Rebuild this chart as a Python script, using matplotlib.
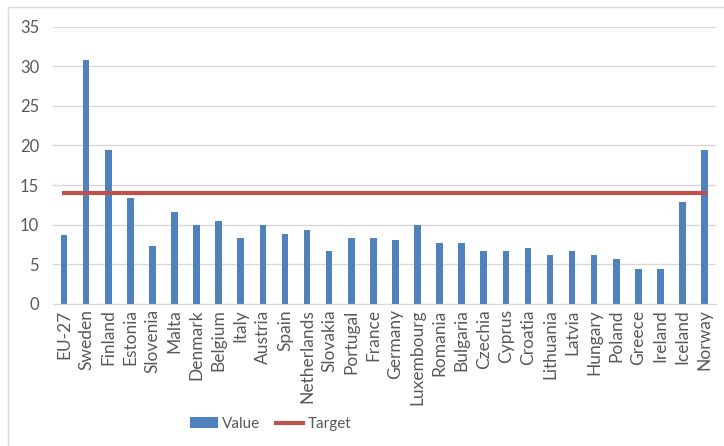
import matplotlib.pyplot as plt
from matplotlib.patches import Rectangle

# Share values per country, with the common target
countries = ["EU-27", "Sweden", "Finland", "Estonia", "Slovenia", "Malta", "Denmark",
             "Belgium", "Italy", "Austria", "Spain", "Netherlands", "Slovakia",
             "Portugal", "France", "Germany", "Luxembourg", "Romania", "Bulgaria",
             "Czechia", "Cyprus", "Croatia", "Lithuania", "Latvia", "Hungary",
             "Poland", "Greece", "Ireland", "Iceland", "Norway"]
values = [8.7, 30.8, 19.4, 13.3, 7.3, 11.6, 10.0, 10.4, 8.3, 9.9, 8.8, 9.3, 6.7,
          8.3, 8.3, 8.0, 9.9, 7.7, 7.7, 6.7, 6.7, 7.1, 6.1, 6.6, 6.1, 5.7, 4.4,
          4.4, 12.9, 19.4]
target = [14.0] * len(countries)

plt.rcParams['font.family'] = ['Lato', 'DejaVu Sans']
txt = '#595959'

fig = plt.figure(figsize=(7.24, 4.46), dpi=100)
ax = fig.add_axes([0.0732, 0.319, 0.9153, 0.621])

x = list(range(len(countries)))
bars = ax.bar(x, values, width=0.3, color='#4F81BD', label='Value', zorder=2)
line, = ax.plot(x, target, color='#C0504D', linewidth=3, label='Target', zorder=3)

ax.set_xlim(-0.5, len(countries) - 0.5)
ax.set_ylim(0, 35)
ax.set_yticks(range(0, 36, 5))
ax.set_xticks(x)
ax.set_xticklabels(countries, rotation=90, fontsize=12.5, color=txt)
ax.tick_params(axis='y', labelsize=12, colors=txt, length=0, pad=10)
ax.tick_params(axis='x', length=0, pad=4)
ax.grid(axis='y', color='#d9d9d9', linewidth=1, zorder=0)
for s in ['top', 'right', 'left']:
    ax.spines[s].set_visible(False)
ax.spines['bottom'].set_color('#d9d9d9')

fig.legend([bars, line], ['Value', 'Target'], loc='center',
           bbox_to_anchor=(0.374, 0.049), ncol=2, frameon=False,
           fontsize=11, labelcolor=txt, handlelength=1.8, columnspacing=1.0,
           handletextpad=0.3)

# chart area border
fig.patches.append(Rectangle((8 / 724, -0.1), 1.1, 1 - 7 / 446 + 0.1,
                             transform=fig.transFigure, fill=False,
                             edgecolor='#d9d9d9', linewidth=1))

fig.savefig('out.png', dpi=100)
